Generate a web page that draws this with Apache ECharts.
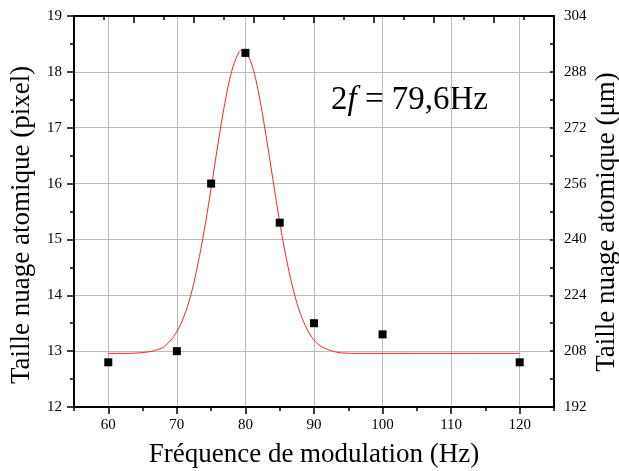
<!DOCTYPE html>
<html><head><meta charset="utf-8">
<script src="https://cdn.jsdelivr.net/npm/echarts@6/dist/echarts.min.js"></script>
<style>html,body{margin:0;padding:0;background:#fff}#c{width:619px;height:471px}</style>
</head><body><div id="c"></div>
<script>
// Measured points (frequency in Hz, cloud size in pixel)
const freqs = [60, 70, 75, 80, 85, 90, 100, 120];
const sizes = [12.8, 13.0, 16.0, 18.34, 15.3, 13.5, 13.3, 12.8];
// Red fit curve
const fitX = [60, 62, 64, 66, 67, 68, 69, 70, 71, 72, 73, 74, 75, 76, 77, 78, 79, 79.6, 80, 81, 82, 83, 84, 85, 86, 87, 88, 89, 90, 91, 92, 93, 94, 96, 100, 110, 120];
const fitY = [12.96, 12.96, 12.965, 12.99, 13.02, 13.07, 13.18, 13.35, 13.61, 13.99, 14.52, 15.17, 15.92, 16.71, 17.44, 18.01, 18.34, 18.40, 18.38, 18.10, 17.57, 16.86, 16.08, 15.31, 14.64, 14.09, 13.68, 13.39, 13.20, 13.09, 13.03, 12.99, 12.97, 12.96, 12.96, 12.96, 12.96];
// Tick values
const xMajorTicks = [60, 70, 80, 90, 100, 110, 120];
const xMinorTicks = [55, 65, 75, 85, 95, 105, 115, 125];
const xTitle = 'Fréquence de modulation (Hz)';
const yLeftTitle = 'Taille nuage atomique (pixel)';
const yRightTitle = 'Taille nuage atomique (μm)';

const FF = '"Liberation Serif", "Times New Roman", serif';
const axisLineStyle = { color: '#000', width: 2 };
const tickStyle = { color: '#000', width: 1.5 };
const gridStyle = { color: '#bbbbbb', width: 1 };
const labelStyle = { fontFamily: FF, fontSize: 15, color: '#000' };

const chart = echarts.init(document.getElementById('c'), null, { renderer: 'canvas' });
chart.setOption({
  animation: false,
  backgroundColor: '#fff',
  grid: { left: 74, top: 16, width: 480, height: 391, containLabel: false },
  xAxis: [
    { type: 'value', position: 'bottom', min: 55, max: 125,
      axisLine: { show: true, onZero: false, lineStyle: axisLineStyle },
      axisTick: { show: true, inside: false, length: 7, customValues: xMajorTicks, lineStyle: tickStyle },
      axisLabel: Object.assign({ customValues: xMajorTicks, margin: 11 }, labelStyle),
      splitLine: { show: true, lineStyle: gridStyle } },
    { type: 'value', position: 'bottom', min: 55, max: 125,
      axisLine: { show: false, onZero: false },
      axisTick: { show: true, inside: false, length: 4, customValues: xMinorTicks, lineStyle: tickStyle },
      axisLabel: { show: false },
      splitLine: { show: false } },
    { type: 'value', position: 'top', min: 0, max: 8, interval: 1,
      axisLine: { show: true, onZero: false, lineStyle: axisLineStyle },
      axisTick: { show: true, inside: true, length: 7, lineStyle: tickStyle },
      minorTick: { show: true, splitNumber: 2, length: 4, lineStyle: tickStyle },
      axisLabel: { show: false },
      splitLine: { show: false } }
  ],
  yAxis: [
    { type: 'value', position: 'left', min: 12, max: 19, interval: 1,
      axisLine: { show: true, onZero: false, lineStyle: axisLineStyle },
      axisTick: { show: true, inside: false, length: 7, lineStyle: tickStyle },
      minorTick: { show: true, splitNumber: 2, length: 4, lineStyle: tickStyle },
      axisLabel: Object.assign({ margin: 12 }, labelStyle),
      splitLine: { show: true, lineStyle: gridStyle } },
    { type: 'value', position: 'right', min: 192, max: 304, interval: 16,
      axisLine: { show: true, onZero: false, lineStyle: axisLineStyle },
      axisTick: { show: true, inside: true, length: 4, lineStyle: tickStyle },
      minorTick: { show: true, splitNumber: 2, length: 4, lineStyle: tickStyle },
      axisLabel: Object.assign({ margin: 10 }, labelStyle),
      splitLine: { show: false } }
  ],
  series: [
    { type: 'line', xAxisIndex: 0, yAxisIndex: 0,
      data: fitX.map((x, i) => [x, fitY[i]]),
      showSymbol: false, symbol: 'none', smooth: 0.4,
      lineStyle: { color: '#ff2020', width: 1 }, z: 2 },
    { type: 'scatter', xAxisIndex: 0, yAxisIndex: 0,
      data: freqs.map((x, i) => [x, sizes[i]]),
      symbol: 'rect', symbolSize: 8,
      itemStyle: { color: '#000', opacity: 1 }, z: 3 }
  ],
  graphic: [
    { type: 'text', x: 314, y: 455, silent: true,
      style: { text: xTitle, fontFamily: FF, fontSize: 27, fill: '#000', align: 'center', verticalAlign: 'middle' } },
    { type: 'text', x: 22, y: 225, rotation: Math.PI / 2, silent: true,
      style: { text: yLeftTitle, fontFamily: FF, fontSize: 27, fill: '#000', align: 'center', verticalAlign: 'middle' } },
    { type: 'text', x: 607, y: 222, rotation: Math.PI / 2, silent: true,
      style: { text: yRightTitle, fontFamily: FF, fontSize: 27, fill: '#000', align: 'center', verticalAlign: 'middle' } },
    { type: 'text', x: 331, y: 100, silent: true,
      style: { text: '{a|2}{b|f}{a| = 79,6Hz}', verticalAlign: 'middle', fill: '#000',
        rich: { a: { fontFamily: FF, fontSize: 33, fill: '#000' },
                b: { fontFamily: FF, fontSize: 33, fontStyle: 'italic', fill: '#000' } } } }
  ]
});
</script></body></html>
